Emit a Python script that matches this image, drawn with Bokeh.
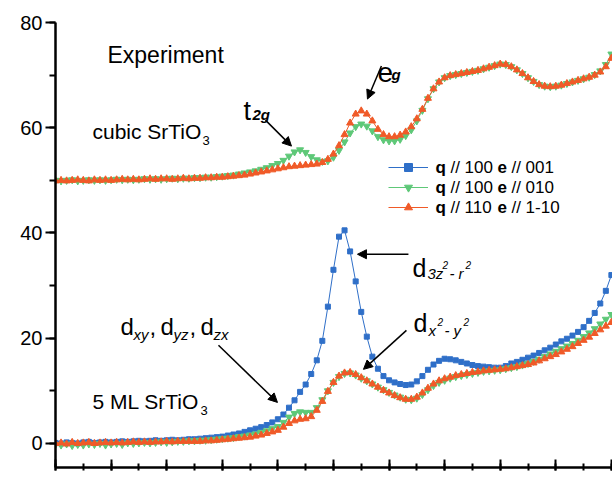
from bokeh.plotting import figure
from bokeh.models import (SingleIntervalTicker, Label, Arrow, NormalHead, Legend, LegendItem,
                          ColumnDataSource)
from bokeh.embed import file_html
from bokeh.resources import INLINE

# ---------------- data (energy grid in tick units, 0.1 step) ----------------
STEP = 0.1
# 5 ML SrTiO3
ml_q100_e001 = [0.1,0.0,0.2,0.1,0.0,0.2,0.3,0.1,0.2,0.3,0.2,0.3,0.4,0.3,0.4,0.5,0.4,0.5,0.6,0.5,0.6,0.7,0.6,0.7,0.8,0.8,
    0.9,1.0,1.1,1.2,1.3,1.5,1.7,1.9,2.2,2.5,2.8,3.1,3.5,4.0,4.6,5.5,6.8,8.2,9.8,11.2,13.2,15.8,19.5,26.0,
    33.0,39.3,40.5,36.5,30.8,25.0,20.3,16.5,14.2,12.8,12.0,11.6,11.3,11.1,11.2,11.8,12.8,14.0,15.0,15.7,
    16.1,16.0,15.8,15.5,15.2,14.9,14.7,14.6,14.5,14.4,14.4,14.7,15.2,15.5,15.9,16.3,16.7,17.2,17.7,18.2,
    18.8,19.4,19.9,20.5,21.2,22.1,23.3,24.8,26.6,29.0,32.0]
ml_q100_e010 = [-0.2,-0.3,-0.1,-0.4,-0.2,-0.3,-0.1,-0.2,0.0,-0.3,-0.1,0.0,-0.2,0.1,0.0,0.1,0.2,0.1,0.2,0.3,0.2,0.3,0.4,0.4,0.5,0.5,
    0.6,0.6,0.7,0.8,0.9,1.0,1.1,1.3,1.4,1.6,1.8,2.1,2.4,2.8,3.2,4.0,5.0,5.7,6.0,5.9,5.9,6.8,8.3,10.0,
    11.6,12.7,13.3,13.4,13.0,12.4,11.9,11.3,10.7,10.2,9.7,9.2,8.8,8.4,8.3,8.6,9.3,10.2,11.0,11.6,
    12.0,12.4,12.7,12.9,13.1,13.3,13.5,13.7,13.8,13.9,14.0,14.2,14.4,14.6,14.9,15.2,15.6,16.0,16.5,17.0,
    17.5,18.0,18.5,19.0,19.6,20.3,21.0,21.8,22.7,23.6,24.5]
ml_q110_e1m10 = [0.0,0.1,-0.1,0.2,0.0,0.1,0.2,0.0,0.1,0.2,0.1,0.2,0.1,0.2,0.3,0.2,0.3,0.2,0.3,0.3,0.4,0.3,0.4,0.4,0.4,0.4,
    0.4,0.5,0.5,0.6,0.7,0.8,0.9,1.0,1.1,1.2,1.4,1.6,1.9,2.2,2.5,3.1,3.8,4.3,4.6,4.7,5.1,6.3,8.0,9.9,
    11.6,12.8,13.4,13.5,13.1,12.5,11.9,11.3,10.7,10.1,9.6,9.1,8.7,8.4,8.4,8.8,9.6,10.5,11.3,11.9,
    12.3,12.6,12.9,13.1,13.3,13.5,13.6,13.8,13.9,14.0,14.1,14.2,14.4,14.6,14.8,15.0,15.3,15.7,16.1,16.5,
    16.9,17.4,17.9,18.4,19.0,19.6,20.2,20.9,21.6,22.3,23.0]
# cubic SrTiO3 (offset curves)
cub_q100_e010 = [50.0,49.9,50.0,50.1,49.9,50.0,50.1,50.0,50.1,50.0,50.1,50.2,50.1,50.2,50.1,50.2,50.3,50.2,50.3,50.2,50.3,50.4,50.3,50.4,50.4,50.5,
    50.5,50.6,50.6,50.7,50.8,50.9,51.0,51.2,51.4,51.6,51.8,52.1,52.4,52.8,53.2,53.8,54.6,55.4,55.8,55.3,
    54.5,53.9,53.6,53.7,54.4,55.7,57.3,59.0,60.2,60.7,60.3,59.4,58.3,57.7,57.5,57.5,57.8,58.5,59.6,61.3,
    63.3,65.5,67.4,68.7,69.5,69.9,70.1,70.3,70.5,70.7,70.9,71.2,71.5,71.8,72.1,72.0,71.6,71.0,70.3,69.5,
    68.8,68.2,67.9,67.8,67.9,68.1,68.4,68.7,69.0,69.3,69.6,70.1,70.8,72.0,74.0]
cub_q110_e1m10 = [49.9,50.0,49.9,50.0,50.1,50.0,49.9,50.1,50.0,50.1,50.0,50.1,50.2,50.1,50.2,50.1,50.2,50.3,50.2,50.3,50.3,50.2,50.3,50.4,50.3,50.4,
    50.4,50.5,50.5,50.6,50.6,50.7,50.8,50.9,51.0,51.2,51.4,51.6,51.8,52.0,52.2,52.4,52.6,52.7,52.8,52.9,
    53.0,53.1,53.4,54.0,55.0,56.6,58.7,60.9,62.6,63.2,62.6,61.3,59.7,58.7,58.3,58.3,58.6,59.2,60.2,61.7,
    63.5,65.6,67.4,68.7,69.5,69.9,70.1,70.3,70.5,70.7,70.9,71.2,71.5,71.8,72.1,72.0,71.6,71.0,70.3,69.5,
    68.8,68.2,67.9,67.8,67.9,68.1,68.4,68.7,69.0,69.3,69.6,70.0,70.6,71.6,73.2]

legend_q = ["100", "100", "110"]
legend_e = ["001", "010", "1-10"]
y_ticks_interval = 20

BLUE = "#2f6fc8"
GREEN = "#5ec878"
RED = "#f05a28"
FONT = "Liberation Sans"


def grid(vals):
    return [round(i * STEP, 1) for i in range(len(vals))]


p = figure(width=612, height=473, x_range=(0, 10.02), y_range=(-4.57, 80),
           output_backend="svg", toolbar_location=None,
           min_border_left=55, min_border_right=0, min_border_top=22, min_border_bottom=6)
p.outline_line_color = None
p.xgrid.visible = False
p.ygrid.visible = False

# axes
p.yaxis.ticker = SingleIntervalTicker(interval=y_ticks_interval, num_minor_ticks=2)
p.xaxis.ticker = SingleIntervalTicker(interval=1, num_minor_ticks=2)
for ax in (p.xaxis[0], p.yaxis[0]):
    ax.axis_line_width = 2.5
    ax.axis_line_color = "black"
    ax.major_tick_line_width = 2
    ax.minor_tick_line_width = 2
    ax.major_tick_line_color = "black"
    ax.minor_tick_line_color = "black"
p.yaxis.major_tick_out = 10
p.yaxis.major_tick_in = 0
p.yaxis.minor_tick_out = 6
p.yaxis.minor_tick_in = 0
p.yaxis.major_label_text_font = FONT
p.yaxis.major_label_text_font_size = "20px"
p.yaxis.major_label_text_color = "black"
p.yaxis.major_label_standoff = 3
p.xaxis.major_tick_in = 8
p.xaxis.major_tick_out = 3
p.xaxis.minor_tick_in = 4
p.xaxis.minor_tick_out = 3
p.xaxis.major_label_text_font_size = "1px"
p.xaxis.major_label_text_alpha = 0
p.xaxis.major_label_standoff = 0

# cubic curves
for vals, col, mk in ((cub_q100_e010, GREEN, "inverted_triangle"), (cub_q110_e1m10, RED, "triangle")):
    src = ColumnDataSource(dict(x=grid(vals), y=vals))
    p.line("x", "y", source=src, color=col, line_width=1)
    p.scatter("x", "y", source=src, marker=mk, size=7, color=col)

# 5 ML curves
items = []
for vals, col, mk, sz in ((ml_q100_e001, BLUE, "square", 5),
                          (ml_q100_e010, GREEN, "inverted_triangle", 7),
                          (ml_q110_e1m10, RED, "triangle", 7)):
    src = ColumnDataSource(dict(x=grid(vals), y=vals))
    l = p.line("x", "y", source=src, color=col, line_width=1)
    s = p.scatter("x", "y", source=src, marker=mk, size=sz, color=col)
    items.append(LegendItem(label=" ", renderers=[l, s]))

leg = Legend(items=items, location=(333, 250), padding=0, spacing=0, margin=0,
             glyph_height=20, glyph_width=40, label_standoff=0,
             border_line_color=None, background_fill_alpha=0,
             label_text_font_size="1px")
p.add_layout(leg, "center")


def txt(x, y, s, size, style="normal", dx=0, dy=0, baseline="alphabetic"):
    p.add_layout(Label(x=x, y=y, text=s, x_offset=dx, y_offset=dy, text_font=FONT,
                       text_font_size=f"{size}px", text_font_style=style,
                       text_color="black", text_baseline=baseline, text_align="left"))


# legend texts
for i, (qv, ev) in enumerate(zip(legend_q, legend_e)):
    yy = 52.51 - i * 3.805
    txt(6.835, yy, "q", 17, "bold", 0, 0, "middle")
    txt(6.835, yy, "// " + qv, 17, "normal", 15, 0, "middle")
    txt(6.835, yy, "e", 17, "bold", 62, 0, "middle")
    txt(6.835, yy, "// " + ev, 17, "normal", 76, 0, "middle")

# titles
txt(0.935, 73.8, "Experiment", 23)
txt(0.665, 59.2, "cubic SrTiO", 21)
txt(0.665, 59.2, "3", 13, dx=110, dy=-9)
txt(0.665, 8.0, "5 ML SrTiO", 21)
txt(0.665, 8.0, "3", 13, dx=108, dy=-9)

# peak labels
txt(3.381, 63.17, "t", 27)
txt(3.381, 63.17, "2g", 15, "bold italic", dx=9, dy=-3)
txt(5.791, 70.59, "e", 28)
txt(5.791, 70.59, "g", 15, "bold italic", dx=14, dy=-2)
# d 3z^2 - r^2
for dx, s, sz, st, dy in ((0, "d", 25, "normal", 0), (15, "3z", 15, "italic", -5), (30, "2", 10, "italic", 3),
                          (37, "- r", 15, "italic", -5), (53, "2", 10, "italic", 3)):
    txt(6.421, 33.30, s, sz, st, dx=dx, dy=dy)
# d x^2 - y^2
for dx, s, sz, st, dy in ((0, "d", 25, "normal", 0), (15, "x", 15, "italic", -7), (24, "2", 10, "italic", 1),
                          (31, "- y", 15, "italic", -7), (50, "2", 10, "italic", 1)):
    txt(6.439, 22.83, s, sz, st, dx=dx, dy=dy)
# d_xy, d_yz, d_zx
for dx, s, sz, st, dy in ((0, "d", 24, "normal", 0), (13, "xy", 15, "italic", -8), (29, ",", 24, "normal", 0),
                          (40, "d", 24, "normal", 0), (53, "yz", 15, "italic", -8), (69, ",", 24, "normal", 0),
                          (80, "d", 24, "normal", 0), (93, "zx", 15, "italic", -8)):
    txt(1.169, 22.2, s, sz, st, dx=dx, dy=dy)

# arrows
for xs, ys, xe, ye in ((3.777, 61.45, 4.245, 56.51),
                       (5.863, 71.73, 5.612, 65.45),
                       (6.349, 35.96, 5.432, 35.96),
                       (6.313, 21.50, 5.540, 14.08),
                       (2.932, 18.65, 3.993, 7.80)):
    p.add_layout(Arrow(end=NormalHead(size=9, fill_color="black", line_color="black", line_width=1),
                       x_start=xs, y_start=ys, x_end=xe, y_end=ye, line_width=1.5, line_color="black"))

open("out.html", "w").write(file_html(p, INLINE))
